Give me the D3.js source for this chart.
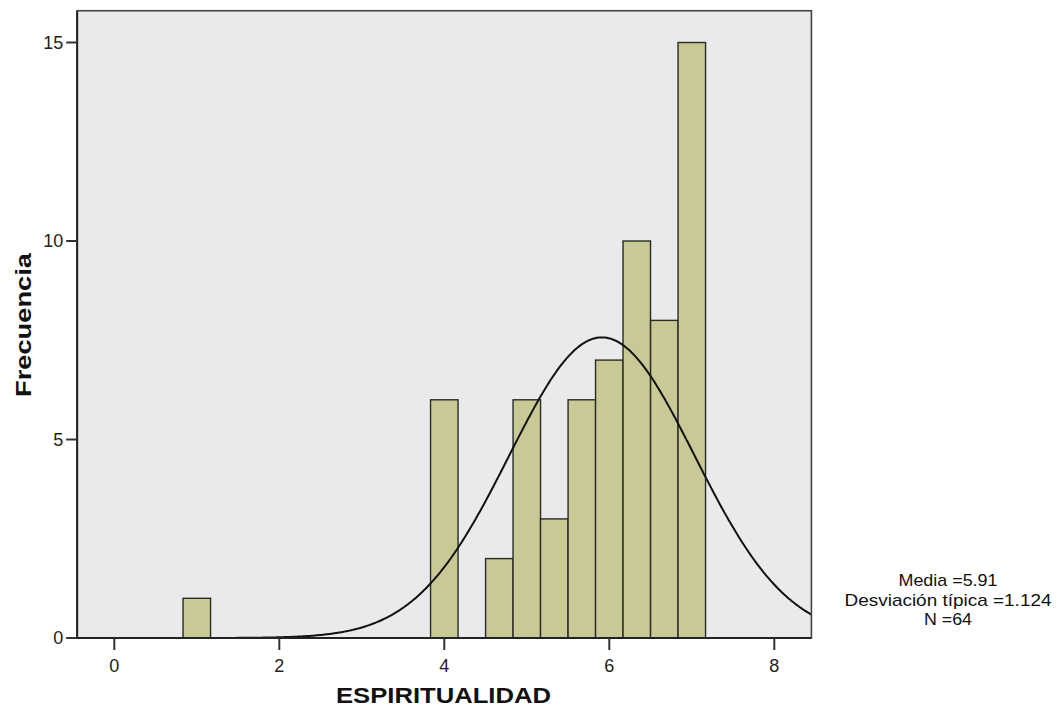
<!DOCTYPE html>
<html>
<head>
<meta charset="utf-8">
<script src="https://cdn.jsdelivr.net/npm/d3@7"></script>
<style>
  body { margin: 0; background: #fff; }
  text { font-family: "Liberation Sans", Arial, sans-serif; }
</style>
</head>
<body>
<div id="root"></div>
<script>
const width = 1062;
const height = 711;

// histogram data (bin width = 1/3)
const binCenters = [1, 4, 4.667, 5, 5.333, 5.667, 6, 6.333, 6.667, 7];
const counts = [1, 6, 2, 6, 3, 6, 7, 10, 8, 15];
const binWidth = 1 / 3;
const xTicks = [0, 2, 4, 6, 8];
const yTicks = [0, 5, 10, 15];
const stats = { mean: 5.91, sd: 1.124, n: 64 };
const statLines = ["Media =5.91", "Desviación típica =1.124", "N =64"];

const x = d3.scaleLinear().domain([0, 8]).range([114.3, 774.3]);
const y = d3.scaleLinear().domain([0, 15]).range([638, 42.5]);
const xMin = -0.45, xMax = 8.45, yMax = 15.8;

const svg = d3.select("#root")
    .append("svg")
    .attr("width", width)
    .attr("height", height);

// plot background
svg.append("rect")
    .attr("x", x(xMin))
    .attr("y", y(yMax))
    .attr("width", x(xMax) - x(xMin))
    .attr("height", y(0) - y(yMax))
    .attr("fill", "#e9eaec");

// bars
svg.append("g")
    .selectAll("rect")
    .data(binCenters)
    .enter().append("rect")
        .attr("x", d => x(d - binWidth / 2))
        .attr("y", (d, i) => y(counts[i]))
        .attr("width", d => x(d + binWidth / 2) - x(d - binWidth / 2))
        .attr("height", (d, i) => y(0) - y(counts[i]))
        .attr("fill", "#c9c995")
        .attr("stroke", "#2a2a2a")
        .attr("stroke-width", 1.4);

// fitted normal curve
const normal = (v) => stats.n * binWidth *
    Math.exp(-0.5 * Math.pow((v - stats.mean) / stats.sd, 2)) / (stats.sd * Math.sqrt(2 * Math.PI));

const curveX = d3.range(xMin, xMax + 0.001, 0.02);
svg.append("path")
    .datum(curveX)
    .attr("fill", "none")
    .attr("stroke", "#111")
    .attr("stroke-width", 2)
    .attr("d", d3.line().x(d => x(d)).y(d => y(normal(d))));

// frame
svg.append("rect")
    .attr("x", x(xMin))
    .attr("y", y(yMax))
    .attr("width", x(xMax) - x(xMin))
    .attr("height", y(0) - y(yMax))
    .attr("fill", "none")
    .attr("stroke", "#444")
    .attr("stroke-width", 1.6);

svg.append("line")
    .attr("x1", x(xMin)).attr("x2", x(xMax))
    .attr("y1", y(0)).attr("y2", y(0))
    .attr("stroke", "#222")
    .attr("stroke-width", 2);

svg.append("line")
    .attr("x1", x(xMin)).attr("x2", x(xMin))
    .attr("y1", y(0)).attr("y2", y(yMax))
    .attr("stroke", "#222")
    .attr("stroke-width", 2);

// y axis ticks
const yTick = svg.append("g")
    .selectAll("g")
    .data(yTicks)
    .enter().append("g")
        .attr("transform", d => `translate(${x(xMin)},${y(d)})`);

yTick.append("line")
    .attr("x1", -11).attr("x2", 0)
    .attr("stroke", "#333")
    .attr("stroke-width", 2);

yTick.append("text")
    .attr("x", -14)
    .attr("dy", "0.35em")
    .attr("text-anchor", "end")
    .attr("font-size", "18px")
    .attr("fill", "#222")
    .text(d => d);

// x axis ticks
const xTick = svg.append("g")
    .selectAll("g")
    .data(xTicks)
    .enter().append("g")
        .attr("transform", d => `translate(${x(d)},${y(0)})`);

xTick.append("line")
    .attr("y1", 0).attr("y2", 12)
    .attr("stroke", "#333")
    .attr("stroke-width", 2);

xTick.append("text")
    .attr("y", 34)
    .attr("text-anchor", "middle")
    .attr("font-size", "18px")
    .attr("fill", "#222")
    .text(d => d);

// axis titles
svg.append("text")
    .attr("x", 443.5)
    .attr("y", 703)
    .attr("text-anchor", "middle")
    .attr("font-size", "22px")
    .attr("font-weight", "bold")
    .attr("textLength", 215)
    .attr("lengthAdjust", "spacingAndGlyphs")
    .attr("fill", "#111")
    .text("ESPIRITUALIDAD");

svg.append("text")
    .attr("transform", "translate(31,325)rotate(-90)")
    .attr("text-anchor", "middle")
    .attr("font-size", "22px")
    .attr("font-weight", "bold")
    .attr("textLength", 144)
    .attr("lengthAdjust", "spacingAndGlyphs")
    .attr("fill", "#111")
    .text("Frecuencia");

// stats box
const statWidths = [99, 207, 48];
svg.append("g")
    .selectAll("text")
    .data(statLines)
    .enter().append("text")
        .attr("x", 948)
        .attr("y", (d, i) => 586 + i * 19.5)
        .attr("text-anchor", "middle")
        .attr("font-size", "17px")
        .attr("textLength", (d, i) => statWidths[i])
        .attr("lengthAdjust", "spacingAndGlyphs")
        .attr("fill", "#111")
        .text(d => d);
</script>
</body>
</html>
